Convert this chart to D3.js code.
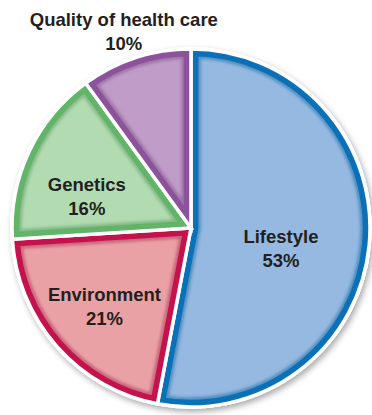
<!DOCTYPE html>
<html>
<head>
<meta charset="utf-8">
<script src="https://cdn.jsdelivr.net/npm/d3@7"></script>
<style>
  html, body { margin: 0; padding: 0; background: #fff; }
  svg { display: block; }
  text { font-family: "Liberation Sans", Arial, Helvetica, sans-serif; font-weight: bold; fill: #231f20; }
</style>
</head>
<body>
<svg id="chart" width="372" height="415"></svg>
<script>
// Determinants of health — share of influence
const categories = ["Lifestyle", "Environment", "Genetics", "Quality of health care"];
const values = [53, 21, 16, 10];
const fillColors = ["#95b9e1", "#e9a1a5", "#b2dbb1", "#c09cc8"];
const borderColors = ["#0a70b8", "#c4124c", "#62b468", "#8c529b"];

const width = 372, height = 415;
const cx = 191, cy = 228, R = 179;
const border = 5.5, gap = 3.5;

// label nudges relative to each slice's centroid (at 0.6 R)
const labelNudge = [[-17, 10], [-6, 7.5], [-7, 14], [-34, -94]];

const svg = d3.select("#chart");
const defs = svg.append("defs");

const shadow = defs.append("filter").attr("id", "dropShadow")
  .attr("x", "-10%").attr("y", "-10%").attr("width", "125%").attr("height", "125%");
shadow.append("feDropShadow").attr("dx", 2).attr("dy", 3)
  .attr("stdDeviation", 3).attr("flood-color", "#000").attr("flood-opacity", 0.35);

const soft = defs.append("filter").attr("id", "soft")
  .attr("x", "-10%").attr("y", "-10%").attr("width", "120%").attr("height", "120%");
soft.append("feGaussianBlur").attr("stdDeviation", 1.4);

const pie = d3.pie().sort(null).value(d => d)(values);
const arc = d3.arc().innerRadius(0).outerRadius(R);
const labelArc = d3.arc().innerRadius(R * 0.6).outerRadius(R * 0.6);

const g = svg.append("g").attr("transform", `translate(${cx},${cy})`);

// white backing disc carrying the shadow
g.append("circle").attr("r", R + gap / 2).attr("fill", "#fff").attr("filter", "url(#dropShadow)");

// one clip per slice, in the slice's own coordinates
pie.forEach((p, i) => {
  defs.append("clipPath").attr("id", "clip" + i).append("path").attr("d", arc(p));
});

const slices = g.selectAll("g.slice").data(pie).join("g").attr("class", "slice");

slices.append("path").attr("d", arc).attr("fill", (d, i) => fillColors[i]);

// soft inner shade next to the rim
slices.append("g")
  .attr("clip-path", (d, i) => `url(#clip${i})`)
  .append("path").attr("d", arc)
  .attr("fill", "none")
  .attr("stroke", (d, i) => d3.color(borderColors[i]).darker(0.6))
  .attr("stroke-opacity", 0.45)
  .attr("stroke-width", 2 * (border + gap / 2 + 2.5))
  .attr("stroke-linejoin", "miter")
  .attr("filter", "url(#soft)");

// solid rim, kept inside the slice by its clip
slices.append("path").attr("d", arc)
  .attr("fill", "none")
  .attr("stroke", (d, i) => borderColors[i])
  .attr("stroke-width", 2 * (border + gap / 2))
  .attr("stroke-linejoin", "miter")
  .attr("clip-path", (d, i) => `url(#clip${i})`);

// white separators and outline
slices.append("path").attr("d", arc)
  .attr("fill", "none")
  .attr("stroke", "#fff")
  .attr("stroke-width", gap)
  .attr("stroke-linejoin", "miter");

// labels
const labels = svg.append("g").attr("transform", `translate(${cx},${cy})`);
pie.forEach((p, i) => {
  const [x, y] = labelArc.centroid(p);
  const lx = x + labelNudge[i][0], ly = y + labelNudge[i][1];
  const t = labels.append("text").attr("text-anchor", "middle").attr("font-size", 18.5);
  t.append("tspan").attr("x", lx).attr("y", ly - 5.5).text(categories[i]);
  t.append("tspan").attr("x", lx).attr("y", ly + 18.5).text(values[i] + "%");
});
</script>
</body>
</html>
